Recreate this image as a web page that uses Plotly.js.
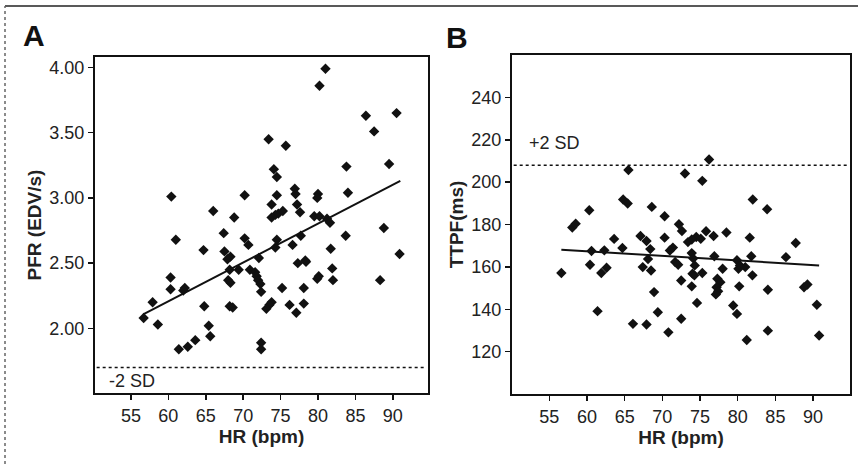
<!DOCTYPE html>
<html>
<head>
<meta charset="utf-8">
<script src="https://cdn.plot.ly/plotly-3.0.1.min.js"></script>
<style>html,body{margin:0;padding:0;background:#fff;}#chart{width:858px;height:464px;}</style>
</head>
<body>
<div id="chart"></div>
<script>
// Panel A: HR vs PFR
const hrA = [81.0,80.2,86.4,90.5,87.5,73.4,75.7,83.8,89.5,74.1,74.5,60.4,70.2,74.5,76.9,77.0,80.0,79.9,84.0,66.0,
  68.8,73.8,73.8,74.3,74.7,75.3,77.2,77.6,79.5,80.2,81.2,81.6,88.8,61.0,67.4,70.2,70.7,74.5,74.3,77.7,
  76.6,83.7,81.7,90.9,64.7,67.5,68.3,67.9,72.1,78.3,77.3,78.4,60.3,60.3,62.2,62.0,57.9,56.7,58.6,64.8,
  65.4,65.6,61.4,62.6,63.6,68.2,69.4,68.0,68.3,68.2,68.6,70.9,71.6,71.8,72.0,72.3,72.4,72.4,72.4,73.8,
  73.5,73.1,75.2,76.2,77.1,78.1,78.1,79.9,80.1,81.9,82.0,88.3];
const pfrA = [3.99,3.86,3.63,3.65,3.51,3.45,3.40,3.24,3.26,3.22,3.16,3.01,3.02,3.02,3.07,3.03,3.03,3.00,3.04,2.90,
  2.85,2.95,2.85,2.87,2.88,2.90,2.95,2.89,2.86,2.86,2.84,2.81,2.77,2.68,2.73,2.69,2.64,2.68,2.62,2.71,
  2.64,2.71,2.61,2.57,2.60,2.59,2.55,2.53,2.54,2.52,2.50,2.51,2.39,2.30,2.31,2.29,2.20,2.08,2.03,2.17,
  2.02,1.94,1.84,1.86,1.91,2.45,2.45,2.37,2.35,2.17,2.16,2.45,2.43,2.40,2.37,2.34,2.28,1.89,1.84,2.20,
  2.18,2.15,2.31,2.18,2.12,2.31,2.19,2.38,2.40,2.46,2.37,2.37];
const fitAx = [56.7, 91.0];
const fitAy = [2.11, 3.13];
const sdA = 1.70;

// Panel B: HR vs TTPF
const hrB = [76.2,65.5,73.0,75.3,64.8,65.4,68.6,60.3,82.0,83.9,58.05,58.5,70.3,72.2,72.6,63.6,67.1,67.9,70.3,73.4,
  74.5,75.1,73.9,75.8,76.8,78.5,81.6,87.7,64.7,60.6,62.3,68.4,71.4,71.0,73.9,74.1,81.8,86.4,68.1,76.9,
  56.6,60.4,61.9,62.6,61.4,67.4,68.5,68.9,66.1,67.9,69.4,70.8,71.7,72.1,72.5,73.9,72.5,74.0,74.25,74.6,
  74.3,75.3,77.3,77.7,77.2,77.4,77.1,78.0,79.4,79.9,80.1,80.2,79.9,80.3,81.0,81.95,81.2,84.0,84.0,88.8,
  89.25,90.5,90.8];
const ttpfB = [210.7,205.7,204.1,200.6,191.8,189.9,188.3,186.7,191.8,187.2,178.6,180.4,183.9,180.1,176.9,173.2,174.6,172.2,173.8,171.7,
  174.1,173.3,172.9,176.8,174.6,176.2,173.8,171.3,168.9,167.5,167.8,168.4,169.1,167.7,166.5,164.0,165.0,164.6,163.7,165.0,
  157.1,161.0,157.1,159.6,139.1,159.9,158.3,148.1,133.1,132.8,138.6,129.1,162.3,161.0,153.6,150.8,135.5,156.8,156.0,143.0,
  160.7,157.1,154.4,152.8,150.4,148.5,147.0,159.1,141.8,137.8,159.1,150.8,163.1,160.7,159.9,156.0,125.5,149.2,129.9,150.4,
  151.7,142.1,127.6];
const fitBx = [56.6, 90.8];
const fitBy = [168.1, 160.7];
const sdB = 208;

const xTicks = [55,60,65,70,75,80,85,90];
const yTicksA = [2.0,2.5,3.0,3.5,4.0];
const yTicksB = [120,140,160,180,200,220,240];

const W = 858, H = 464;
const FONT = 'Liberation Sans, Arial, Helvetica, sans-serif';
const mk = {symbol:'diamond', size:8, color:'#111', line:{width:0}};

const traces = [
  {x:hrA, y:pfrA, type:'scatter', mode:'markers', marker:mk, xaxis:'x', yaxis:'y', hoverinfo:'skip'},
  {x:fitAx, y:fitAy, type:'scatter', mode:'lines', line:{color:'#111', width:2}, xaxis:'x', yaxis:'y'},
  {x:hrB, y:ttpfB, type:'scatter', mode:'markers', marker:mk, xaxis:'x2', yaxis:'y2', hoverinfo:'skip'},
  {x:fitBx, y:fitBy, type:'scatter', mode:'lines', line:{color:'#111', width:2}, xaxis:'x2', yaxis:'y2'}
];

function axisBase(){
  return {showgrid:false, zeroline:false, showline:true, mirror:true, linecolor:'#111', linewidth:2,
    ticks:'outside', ticklen:5, tickwidth:1.5, tickcolor:'#111',
    tickfont:{family:FONT, size:18, color:'#222'}, fixedrange:true};
}
const titleFont = {family:FONT, size:19, color:'#222', weight:'bold'};

const layout = {
  width:W, height:H, showlegend:false,
  paper_bgcolor:'#fff', plot_bgcolor:'#fff',
  margin:{l:0, r:0, t:0, b:0},
  font:{family:FONT, color:'#222'},
  xaxis: Object.assign(axisBase(), {domain:[95/W, 428/W], range:[50.2, 94.7], tickvals:xTicks, anchor:'y',
    title:{text:'<b>HR (bpm)</b>', font:titleFont, standoff:4}}),
  yaxis: Object.assign(axisBase(), {domain:[1-393/H, 1-57/H], range:[1.505, 4.08], tickvals:yTicksA, tickformat:'.2f', anchor:'x',
    title:{text:'<b>PFR (EDV/s)</b>', font:titleFont, standoff:3}}),
  xaxis2: Object.assign(axisBase(), {domain:[512/W, 850/W], range:[50.05, 94.9], tickvals:xTicks, anchor:'y2',
    title:{text:'<b>HR (bpm)</b>', font:titleFont, standoff:4}}),
  yaxis2: Object.assign(axisBase(), {domain:[1-394/H, 1-55/H], range:[100, 260], tickvals:yTicksB, anchor:'x2',
    title:{text:'<b>TTPF(ms)</b>', font:titleFont, standoff:3}}),
  shapes:[
    {type:'line', xref:'x domain', yref:'y', x0:0.005, x1:0.995, y0:sdA, y1:sdA, line:{color:'#111', width:1.5, dash:'dot'}},
    {type:'line', xref:'x2 domain', yref:'y2', x0:0.005, x1:0.995, y0:sdB, y1:sdB, line:{color:'#111', width:1.5, dash:'dot'}},
    {type:'line', xref:'paper', yref:'paper', x0:5/W, x1:1, y0:1-6/H, y1:1-6/H, line:{color:'#222', width:1.5}},
    {type:'line', xref:'paper', yref:'paper', x0:5/W, x1:5/W, y0:0, y1:1-6/H, line:{color:'#666', width:1.5, dash:'dot'}}
  ],
  annotations:[
    {text:'<b>A</b>', xref:'paper', yref:'paper', x:21/W, y:1-36/H, xanchor:'left', yanchor:'middle', showarrow:false,
      font:{family:FONT, size:30, color:'#111'}},
    {text:'<b>B</b>', xref:'paper', yref:'paper', x:444/W, y:1-37/H, xanchor:'left', yanchor:'middle', showarrow:false,
      font:{family:FONT, size:30, color:'#111'}},
    {text:'-2 SD', xref:'x domain', yref:'y', x:0.035, y:1.60, xanchor:'left', yanchor:'middle', showarrow:false,
      font:{family:FONT, size:18, color:'#222'}},
    {text:'+2 SD', xref:'x2 domain', yref:'y2', x:0.045, y:218.5, xanchor:'left', yanchor:'middle', showarrow:false,
      font:{family:FONT, size:18, color:'#222'}}
  ]
};

Plotly.newPlot('chart', traces, layout, {displayModeBar:false, staticPlot:true});
</script>
</body>
</html>
